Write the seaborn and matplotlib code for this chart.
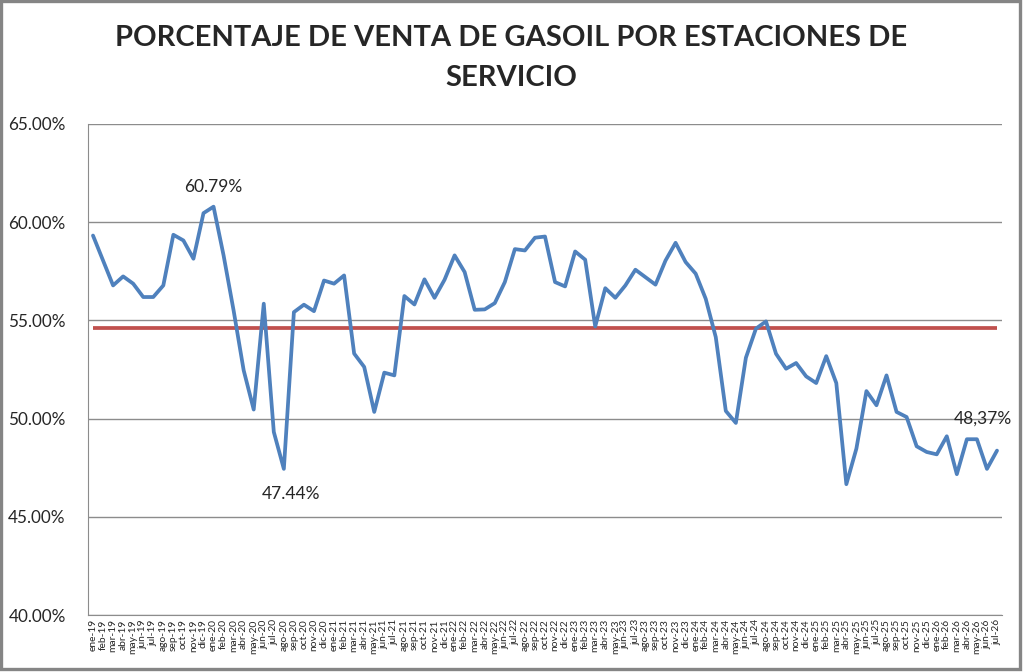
import numpy as np
import pandas as pd
import matplotlib
matplotlib.use("Agg")
import matplotlib.pyplot as plt
from matplotlib.patches import Rectangle
import seaborn as sns

# Monthly labels ene-19 .. jul-26
months = ["ene", "feb", "mar", "abr", "may", "jun", "jul", "ago", "sep", "oct", "nov", "dic"]
years = ["19", "20", "21", "22", "23", "24", "25", "26"]
labels = [f"{m}-{y}" for y in years for m in months][:91]

# Percentage of gasoil sold by service stations
pct = [
    59.32, 58.05, 56.78, 57.24, 56.87, 56.19, 56.19, 56.78, 59.36, 59.07, 58.14, 60.46,
    60.79, 58.31, 55.50, 52.46, 50.46, 55.85, 49.32, 47.44, 55.42, 55.80, 55.47, 57.03,
    56.87, 57.29, 53.31, 52.63, 50.34, 52.34, 52.20, 56.24, 55.81, 57.09, 56.15, 57.07,
    58.31, 57.46, 55.54, 55.56, 55.88, 56.95, 58.63, 58.56, 59.21, 59.27, 56.95, 56.73,
    58.51, 58.09, 54.69, 56.64, 56.15, 56.78, 57.58, 57.20, 56.82, 58.05, 58.95, 57.97,
    57.38, 56.10, 54.15, 50.39, 49.78, 53.10, 54.58, 54.95, 53.30, 52.54, 52.83, 52.15,
    51.81, 53.18, 51.81, 46.66, 48.47, 51.40, 50.68, 52.20, 50.34, 50.08, 48.59, 48.30,
    48.18, 49.10, 47.17, 48.95, 48.95, 47.44, 48.37,
]
average = 54.59

df = pd.DataFrame({"mes": np.arange(len(pct)), "pct": pct})

sns.set_style("white")
plt.rcParams["font.family"] = ["Lato", "DejaVu Sans"]

fig = plt.figure(figsize=(10.23, 6.72), dpi=100)
fig.patch.set_facecolor("white")
fig.add_artist(Rectangle((0.001, 0.004), 0.996, 0.994, transform=fig.transFigure,
                         facecolor="none", edgecolor="#858585", linewidth=2.4))

ax = fig.add_axes([0.086, 0.0848, 0.8935, 0.7307])

ax.hlines(average, 0, len(pct) - 1, color="#C0504D", linewidth=2.7, zorder=2)
sns.lineplot(data=df, x="mes", y="pct", ax=ax, color="#4F81BD", linewidth=2.7, zorder=3)

ax.set_xlim(-0.5, len(pct) - 0.5)
ax.set_ylim(40, 65)
ax.set_yticks([40, 45, 50, 55, 60, 65])
ax.set_yticklabels([f"{v:.2f}%" for v in [40, 45, 50, 55, 60, 65]], fontsize=12.3)
ax.set_xticks(df["mes"])
ax.set_xticklabels(labels, rotation=90, fontsize=7.4)
ax.tick_params(axis="y", length=0, pad=16)
ax.tick_params(axis="x", length=0, pad=3)
ax.yaxis.grid(True, color="#8c8c8c", linewidth=1)
ax.set_axisbelow(True)
for s in ["top", "right"]:
    ax.spines[s].set_visible(False)
ax.spines["left"].set_color("#8c8c8c")
ax.spines["bottom"].set_color("#8c8c8c")
ax.set_xlabel("")
ax.set_ylabel("")

# Data labels
i_max = 12
i_min = 19
i_last = len(pct) - 1
ax.annotate(f"{pct[i_max]:.2f}%", (i_max, pct[i_max]), xytext=(0, 14), textcoords="offset points",
            ha="center", va="center", fontsize=12.5)
ax.annotate(f"{pct[i_min]:.2f}%", (i_min, pct[i_min]), xytext=(5, -18), textcoords="offset points",
            ha="center", va="center", fontsize=12.5)
ax.annotate(f"{pct[i_last]:.2f}%".replace(".", ","), (i_last, pct[i_last]), xytext=(-10, 23),
            textcoords="offset points", ha="center", va="center", fontsize=12.5)

fig.text(0.5, 0.943, "PORCENTAJE DE VENTA DE GASOIL POR ESTACIONES DE", ha="center", va="center",
         fontsize=21, fontweight="bold")
fig.text(0.5, 0.884, "SERVICIO", ha="center", va="center", fontsize=21, fontweight="bold")

fig.savefig("out.png", dpi=100)
